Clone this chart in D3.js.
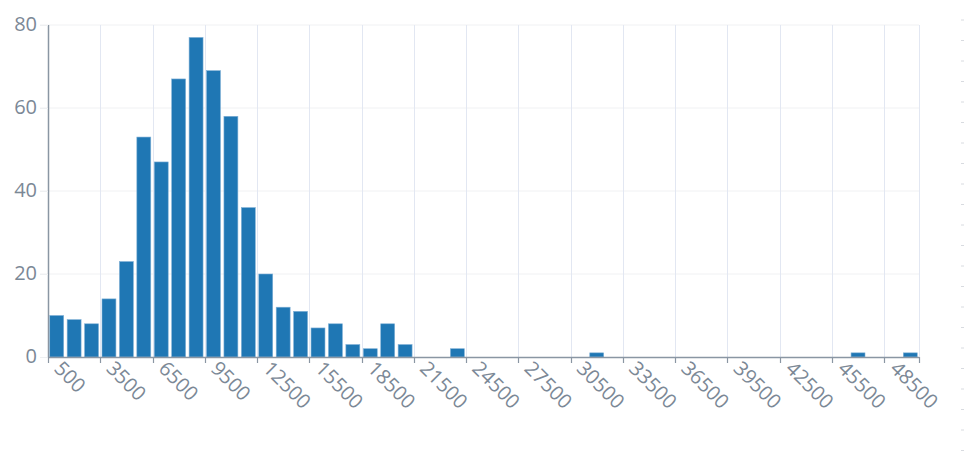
<!DOCTYPE html>
<html>
<head>
<meta charset="utf-8">
<script src="https://cdn.jsdelivr.net/npm/d3@7"></script>
<style>
  html, body { margin: 0; padding: 0; background: #fff; }
  svg { display: block; font-family: "Open Sans", "Noto Sans", sans-serif; }
</style>
</head>
<body>
<svg id="chart" width="964" height="473"></svg>
<script>
const categories = ["500","1500","2500","3500","4500","5500","6500","7500","8500","9500",
  "10500","11500","12500","13500","14500","15500","16500","17500","18500","19500",
  "20500","21500","22500","23500","24500","25500","26500","27500","28500","29500",
  "30500","31500","32500","33500","34500","35500","36500","37500","38500","39500",
  "40500","41500","42500","43500","44500","45500","46500","47500","48500","49500"];
const counts = [10,9,8,14,23,53,47,67,77,69,
  58,36,20,12,11,7,8,3,2,8,
  3,0,0,2,0,0,0,0,0,0,
  0,1,0,0,0,0,0,0,0,0,
  0,0,0,0,0,0,1,0,0,1];
const xTickLabels = ["500","3500","6500","9500","12500","15500","18500","21500","24500",
  "27500","30500","33500","36500","39500","42500","45500","48500"];
const yTicks = [0,20,40,60,80];

const margin = {left: 48, right: 45, top: 25, bottom: 116};
const W = 964, H = 473;
const svg = d3.select("#chart");

const x = d3.scaleBand().domain(categories).range([margin.left, W - margin.right]).padding(0);
const y = d3.scaleLinear().domain([0, 80]).range([H - margin.bottom, margin.top]);
const bw = x.bandwidth();

const labelColor = "#7b8896";
const axisColor = "#8a96a3";

// horizontal grid
svg.append("g").selectAll("line").data(yTicks.filter(d => d > 0)).join("line")
  .attr("x1", margin.left - 8).attr("x2", W - margin.right)
  .attr("y1", d => y(d)).attr("y2", d => y(d))
  .attr("stroke", "#f0f1f3").attr("stroke-width", 1);

// vertical grid at labeled band boundaries + right edge
const vx = xTickLabels.map(c => x(c)).concat([W - margin.right]);
svg.append("g").selectAll("line").data(vx.slice(1)).join("line")
  .attr("x1", d => Math.round(d) + 0.5).attr("x2", d => Math.round(d) + 0.5)
  .attr("y1", y(80)).attr("y2", y(0))
  .attr("stroke", "#e2e7f2").attr("stroke-width", 1);

// bars
svg.append("g").selectAll("rect").data(categories.map((c, i) => ({c, v: counts[i]})).filter(d => d.v > 0)).join("rect")
  .attr("x", d => x(d.c) + bw * 0.1)
  .attr("width", bw * 0.8)
  .attr("y", d => y(d.v))
  .attr("height", d => y(0) - y(d.v))
  .attr("fill", "#1f77b4")
  .attr("stroke", "#7fb0d6").attr("stroke-width", 0.6);

// y axis
const yAxis = d3.axisLeft(y).tickValues(yTicks).tickSize(8).tickPadding(3);
const gy = svg.append("g").attr("transform", `translate(${margin.left},0)`).call(yAxis);
gy.select(".domain").attr("stroke", axisColor).attr("stroke-width", 1.5).attr("d", `M0.5,${y(0)}V${y(80)}`);
gy.selectAll(".tick line").attr("stroke", "#eef0f2");
gy.selectAll(".tick text").attr("fill", labelColor).attr("font-size", 20)
  .attr("font-family", "'Open Sans', 'Noto Sans', sans-serif")
  .attr("dy", null).attr("dominant-baseline", "middle");

// x axis
const gx = svg.append("g");
gx.append("line").attr("x1", margin.left).attr("x2", W - margin.right)
  .attr("y1", y(0) + 0.5).attr("y2", y(0) + 0.5)
  .attr("stroke", axisColor).attr("stroke-width", 1.5);
gx.selectAll("line.tk").data(vx).join("line").attr("class", "tk")
  .attr("x1", d => Math.round(d) + 0.5).attr("x2", d => Math.round(d) + 0.5)
  .attr("y1", y(0)).attr("y2", y(0) + 6)
  .attr("stroke", axisColor).attr("stroke-width", 1.2);
gx.selectAll("text").data(xTickLabels).join("text")
  .attr("transform", d => `translate(${x(d) + bw / 2},${y(0) + 9}) rotate(45)`)
  .attr("dominant-baseline", "middle")
  .attr("text-anchor", "start")
  .attr("fill", labelColor).attr("font-size", 20)
  .text(d => d);

// faint dashed marks at right edge
svg.append("g").selectAll("line").data(d3.range(20, 465, 20.5)).join("line")
  .attr("x1", 961).attr("x2", 964).attr("y1", d => d).attr("y2", d => d)
  .attr("stroke", "#d8dbe0").attr("stroke-width", 1);
</script>
</body>
</html>
